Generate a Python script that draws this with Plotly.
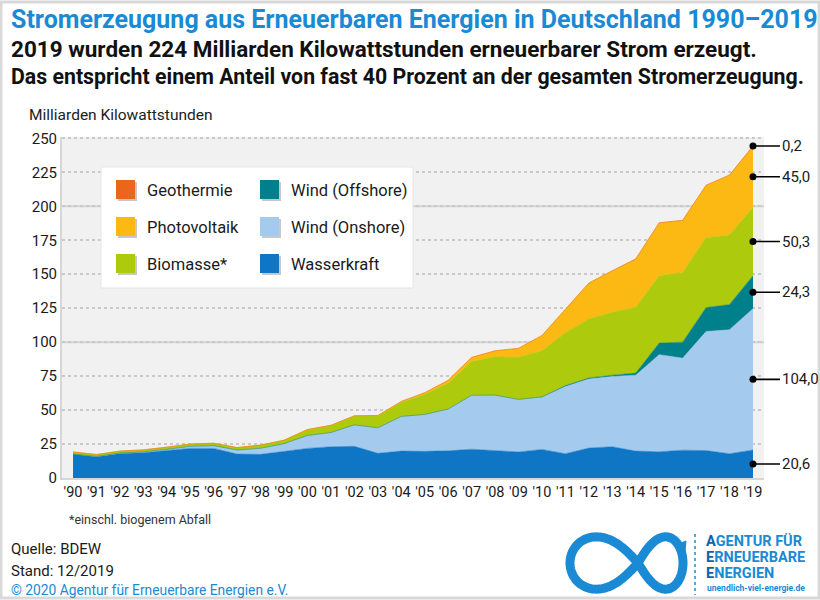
import plotly.graph_objects as go
import numpy as np

# Stromerzeugung aus erneuerbaren Energien, Mrd. kWh
years = list(range(1990, 2020))
wasserkraft = [17.6, 15.7, 18.1, 18.6, 20.2, 21.8, 21.8, 17.6, 17.4, 19.8,
               21.8, 23.0, 23.3, 18.2, 19.8, 19.6, 20.0, 21.2, 20.4, 19.2,
               21.0, 17.9, 22.1, 23.0, 19.8, 19.3, 20.5, 20.2, 17.9, 20.6]
wind_onshore = [0.1, 0.2, 0.3, 0.6, 0.9, 1.5, 2.0, 3.0, 4.5, 5.5,
                9.5, 10.5, 15.8, 18.7, 25.5, 27.2, 30.7, 39.7, 40.6, 38.6,
                38.5, 49.5, 50.8, 51.8, 55.9, 71.5, 67.7, 87.6, 91.2, 104.0]
wind_offshore = [0, 0, 0, 0, 0, 0, 0, 0, 0, 0,
                 0, 0, 0, 0, 0, 0, 0, 0, 0, 0.04,
                 0.2, 0.6, 0.7, 0.9, 1.5, 8.5, 11.8, 17.7, 18.6, 24.3]
biomasse = [1.5, 1.4, 1.4, 1.5, 1.6, 1.7, 1.8, 1.8, 2.3, 2.5,
            4.3, 5.2, 6.5, 8.8, 10.5, 14.7, 19.0, 24.8, 28.2, 31.0,
            34.0, 39.0, 43.5, 46.3, 48.5, 49.5, 51.2, 51.4, 51.2, 50.3]
photovoltaik = [0, 0, 0, 0, 0, 0, 0, 0, 0, 0,
                0.1, 0.1, 0.2, 0.3, 0.6, 1.3, 2.2, 3.1, 4.4, 6.6,
                11.2, 17.5, 26.4, 30.5, 35.5, 39.0, 38.3, 38.5, 44.0, 45.0]
geothermie = [0, 0, 0, 0, 0, 0, 0, 0, 0, 0,
              0, 0, 0, 0, 0.0002, 0.0002, 0.0004, 0.0004, 0.018, 0.019,
              0.028, 0.019, 0.025, 0.08, 0.098, 0.133, 0.175, 0.163, 0.178, 0.2]

series_names = ["Wasserkraft", "Wind (Onshore)", "Wind (Offshore)",
                "Biomasse*", "Photovoltaik", "Geothermie"]
series_values = [wasserkraft, wind_onshore, wind_offshore,
                 biomasse, photovoltaik, geothermie]
colors = ["#0f76c6", "#a4cbee", "#00808a", "#aeca0c", "#fcb813", "#ec6619"]

tick_vals_y = list(range(0, 251, 25))
tick_text_x = ["'" + str(y)[2:] for y in years]

legend_rows = [["Geothermie", "Wind (Offshore)"],
               ["Photovoltaik", "Wind (Onshore)"],
               ["Biomasse*", "Wasserkraft"]]

title_blue = "#1a8ad4"
font = "Roboto"

# plot area in pixels
L, R, T, B = 62, 764, 137, 478


def px(x):
    return (x - L) / (R - L)


def py(y):
    return (B - y) / (B - T)


fig = go.Figure()

for name, vals, col in zip(series_names, series_values, colors):
    fig.add_trace(go.Scatter(
        x=years, y=vals, name=name, stackgroup="one",
        mode="lines", line=dict(width=0.5, color=col),
        fillcolor=col, showlegend=False, hoverinfo="x+y+name",
    ))

# 2019 labels at the right edge
last = [v[-1] for v in series_values]
cum = np.cumsum(last)
mids = [c - v / 2 for c, v in zip(cum, last)]
mids[-1] = cum[-1]

fig.add_trace(go.Scatter(
    x=[years[-1]] * len(mids), y=mids, mode="markers",
    marker=dict(color="black", size=7), cliponaxis=False,
    showlegend=False, hoverinfo="skip",
))

annotations = []
for m, v in zip(mids, last):
    annotations.append(dict(
        x=years[-1], y=m, xref="x", yref="y", ax=27, ay=0,
        text=f"{v:.1f}".replace(".", ","), showarrow=True, arrowhead=0,
        arrowwidth=1.6, arrowcolor="black", xanchor="left",
        font=dict(family=font, size=15, color="#1a1a1a"),
    ))


def txt(x, y, s, size, color="#1a1a1a", bold=False, anchor="left"):
    if bold:
        s = "<b>" + s + "</b>"
    annotations.append(dict(
        x=px(x), y=py(y), xref="paper", yref="paper", text=s,
        showarrow=False, xanchor=anchor, yanchor="middle",
        font=dict(family=font, size=size, color=color),
    ))


txt(9, 19, "Stromerzeugung aus Erneuerbaren Energien in Deutschland 1990–2019",
    25, title_blue, True)
txt(9, 49, "2019 wurden 224 Milliarden Kilowattstunden erneuerbarer Strom erzeugt.",
    22.5, "#111111", True)
txt(9, 77, "Das entspricht einem Anteil von fast 40 Prozent an der gesamten Stromerzeugung.",
    21.3, "#111111", True)
txt(27, 115, "Milliarden Kilowattstunden", 15.5, "#222222")
txt(67, 519, "*einschl. biogenem Abfall", 12.5, "#333333")
txt(9, 549, "Quelle: BDEW", 15, "#1a1a1a")
txt(9, 571, "Stand: 12/2019", 15, "#1a1a1a")
txt(9, 590, "© 2020 Agentur für Erneuerbare Energien e.V.", 13.8, title_blue)

dark = "#0b62ab"
for yy, first, rest in [(541, "A", "GENTUR FÜR"), (557, "E", "RNEUERBARE"),
                        (573, "E", "NERGIEN")]:
    txt(704, yy, f"<span style='color:{dark}'>{first}</span>{rest}", 14.5, title_blue, True)
txt(705, 588, "unendlich-viel-energie.de", 8.5, title_blue, True)

shapes = []
# solid gridlines
for g in [100, 200]:
    shapes.append(dict(type="line", xref="paper", yref="y", x0=0, x1=1,
                       y0=g, y1=g, line=dict(color="#d3d3d3", width=2),
                       layer="below"))

# legend box
shapes.append(dict(type="rect", xref="paper", yref="paper",
                   x0=px(101), x1=px(413), y0=py(288), y1=py(167),
                   fillcolor="white", line=dict(color="#e6e6e6", width=1)))
name_color = dict(zip(series_names, colors))
col_x = [116, 260]
row_y = [190, 227, 264]
for r, row in enumerate(legend_rows):
    for c, name in enumerate(row):
        x0, yc = col_x[c], row_y[r]
        shapes.append(dict(type="rect", xref="paper", yref="paper",
                           x0=px(x0 + 2), x1=px(x0 + 21), y0=py(yc + 11), y1=py(yc - 8),
                           fillcolor="#c8c8c8", line=dict(width=0)))
        shapes.append(dict(type="rect", xref="paper", yref="paper",
                           x0=px(x0), x1=px(x0 + 19), y0=py(yc + 9), y1=py(yc - 10),
                           fillcolor=name_color[name], line=dict(width=0)))
        txt(x0 + 29, yc, name, 16.5, "#1a1a1a")

# logo: infinity loop
t = np.linspace(0, 2 * np.pi, 200)
den = 1 + np.sin(t) ** 2
lx = np.cos(t) / den
ly = np.sin(t) * np.cos(t) / den
lx = np.where(lx < 0, lx * 68, lx * 45) + 638
ly = ly * 74 + 563
path = "M " + " L ".join(f"{px(a):.5f},{py(b):.5f}" for a, b in zip(lx, ly)) + " Z"
shapes.append(dict(type="path", xref="paper", yref="paper", path=path,
                   line=dict(color=title_blue, width=9)))
arrow = f"M {px(676):.5f},{py(545):.5f} L {px(686):.5f},{py(541):.5f} L {px(685):.5f},{py(552):.5f} Z"
shapes.append(dict(type="path", xref="paper", yref="paper", path=arrow,
                   fillcolor=title_blue, line=dict(color=title_blue, width=1)))
shapes.append(dict(type="line", xref="paper", yref="paper",
                   x0=px(695), x1=px(695), y0=py(534), y1=py(595),
                   line=dict(color=title_blue, width=1.5, dash="dot")))

# thin frame around the picture
shapes.append(dict(type="rect", xref="paper", yref="paper",
                   x0=px(1), x1=px(819), y0=py(598), y1=py(2),
                   line=dict(color="#d9d9d9", width=3)))

fig.update_layout(
    width=820, height=600,
    margin=dict(l=L, r=820 - R, t=T, b=600 - B),
    paper_bgcolor="white", plot_bgcolor="#f1f1f1",
    showlegend=False,
    annotations=annotations, shapes=shapes,
    font=dict(family=font, color="#1a1a1a"),
    xaxis=dict(range=[1989.53, 2019.47], tickvals=years, ticktext=tick_text_x,
               tickangle=0, showgrid=False, zeroline=False, showline=True,
               linecolor="#d6d6d6", linewidth=2, ticks="",
               tickfont=dict(size=14.5, color="#1a1a1a"), fixedrange=True),
    yaxis=dict(range=[0, 251], tickvals=tick_vals_y, showgrid=True,
               gridcolor="#c9c9c9", griddash="dot", gridwidth=1.5,
               zeroline=False, showline=True, linecolor="#d6d6d6", linewidth=2,
               ticks="", tickfont=dict(size=15, color="#1a1a1a"),
               fixedrange=True),
)

fig.write_html("out.html", config={"displayModeBar": False},
               post_script="document.body.style.margin='0';")
